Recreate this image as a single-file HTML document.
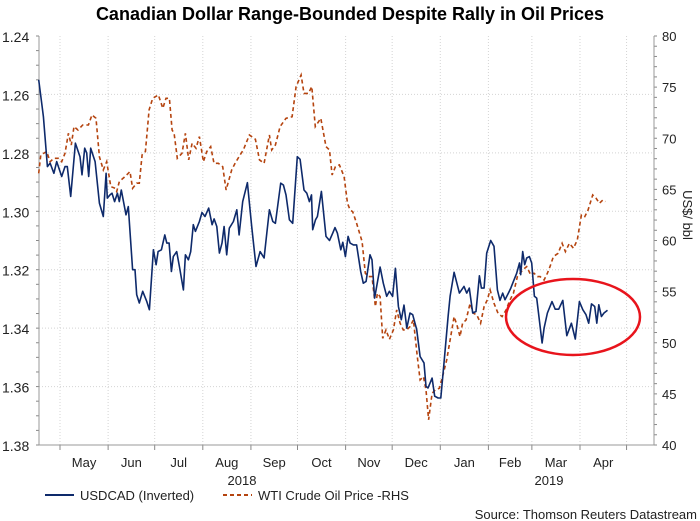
<!DOCTYPE html>
<html><head><meta charset="utf-8"><style>
html,body{margin:0;padding:0;background:#fff;}
svg{display:block;font-family:"Liberation Sans",Arial,sans-serif;}
</style></head><body>
<svg id="chart" width="700" height="521" viewBox="0 0 700 521">
<text x="350" y="20" text-anchor="middle" font-size="18" font-weight="bold" fill="#000">Canadian Dollar Range-Bounded Despite Rally in Oil Prices</text>
<g id="grid"></g>
<g id="axes"></g>
<g id="series"></g>
<ellipse cx="573" cy="317" rx="67" ry="38" fill="none" stroke="#e8141c" stroke-width="2.5"/>
<text transform="translate(683,215) rotate(90)" text-anchor="middle" font-size="13" fill="#222">US$/ bbl</text>
<text x="242" y="485" text-anchor="middle" font-size="13" fill="#222">2018</text>
<text x="549" y="485" text-anchor="middle" font-size="13" fill="#222">2019</text>
<g>
<g><line x1="45" y1="495" x2="74" y2="495" stroke="#0e2a6b" stroke-width="2"/><text x="80" y="500" font-size="13" fill="#222">USDCAD (Inverted)</text></g>
<g><line x1="223" y1="495" x2="252" y2="495" stroke="#b5440f" stroke-width="2" stroke-dasharray="4,3"/><text x="258" y="500" font-size="13" fill="#222">WTI Crude Oil Price -RHS</text></g>
</g>
<text x="697" y="519" text-anchor="end" font-size="13" fill="#222">Source: Thomson Reuters Datastream</text>
</svg>
<script>
// days since 2018-04-01
const usdDays=[16.3,18.2,19.3,21.9,23.6,26.1,27.9,31.1,33.2,34.7,36.9,39.9,42.9,44.2,45.9,47.2,48.5,49.8,52.6,55.4,57.9,59.7,60.5,62.2,63.5,65.2,67.0,68.2,69.5,72.5,74.0,76.8,78.3,79.4,81.1,83.3,85.9,87.6,90.2,91.9,93.2,95.3,97.5,98.8,100.3,101.8,103.0,105.2,106.9,109.5,110.8,112.7,114.2,115.9,117.2,119.8,121.5,123.4,125.8,128.0,129.3,131.0,132.7,134.4,135.7,137.4,139.1,141.7,143.9,145.4,147.7,150.7,153.5,156.3,158.9,161.5,163.2,164.9,167.1,168.8,172.2,173.9,175.6,177.8,179.9,182.9,184.7,187.2,189.0,190.7,192.0,192.8,194.6,195.8,198.4,201.4,203.6,205.7,207.2,208.7,210.9,212.2,213.9,215.6,216.9,219.0,221.1,223.7,225.4,227.2,229.7,231.0,232.7,236.2,238.3,240.5,242.2,244.3,246.1,248.0,249.9,251.6,253.4,255.5,257.2,259.8,262.0,264.5,265.8,267.1,269.7,271.4,273.6,275.3,277.4,280.0,281.3,283.9,287.3,290.3,292.0,293.7,295.9,298.0,300.2,301.5,303.2,304.9,307.5,309.6,311.8,313.5,315.2,316.7,318.9,320.4,322.1,324.2,326.0,326.8,328.1,329.4,330.7,332.4,333.9,335.6,337.1,338.4,340.6,341.9,344.0,347.0,349.0,351.3,353.9,356.5,359.5,362.0,364.6,366.8,368.9,370.6,372.4,374.5,375.8,377.1,378.8,380.5,382.7];
const usdValues=[1.2550,1.2630,1.2676,1.2847,1.2835,1.2870,1.2830,1.2881,1.2847,1.2847,1.2949,1.2767,1.2813,1.2875,1.2784,1.2801,1.2881,1.2784,1.2830,1.2972,1.3018,1.2870,1.2955,1.2944,1.2938,1.2967,1.2938,1.2967,1.2927,1.3012,1.2984,1.3200,1.3200,1.3286,1.3314,1.3274,1.3309,1.3337,1.3132,1.3183,1.3138,1.3132,1.3081,1.3109,1.3109,1.3206,1.3155,1.3138,1.3189,1.3269,1.3149,1.3166,1.3138,1.3046,1.3069,1.3035,1.3004,1.3018,1.2989,1.3046,1.3026,1.3052,1.3143,1.3109,1.3052,1.3149,1.3058,1.3035,1.2995,1.3081,1.2967,1.2902,1.3052,1.3189,1.3138,1.3160,1.3075,1.2995,1.3035,1.3041,1.2904,1.2910,1.2944,1.3029,1.3041,1.2813,1.2822,1.2927,1.2938,1.2967,1.2944,1.3063,1.3029,1.3018,1.2932,1.3086,1.3100,1.3075,1.3056,1.3075,1.3132,1.3106,1.3155,1.3086,1.3109,1.3115,1.3115,1.3206,1.3246,1.3240,1.3149,1.3166,1.3297,1.3191,1.3246,1.3291,1.3274,1.3291,1.3195,1.3326,1.3371,1.3321,1.3400,1.3348,1.3354,1.3405,1.3497,1.3519,1.3599,1.3605,1.3571,1.3633,1.3639,1.3639,1.3519,1.3360,1.3291,1.3209,1.3280,1.3257,1.3280,1.3263,1.3348,1.3343,1.3221,1.3263,1.3263,1.3143,1.3100,1.3120,1.3269,1.3305,1.3280,1.3303,1.3280,1.3263,1.3240,1.3212,1.3177,1.3217,1.3138,1.3183,1.3160,1.3155,1.3177,1.3291,1.3297,1.3354,1.3451,1.3400,1.3348,1.3309,1.3335,1.3335,1.3305,1.3426,1.3383,1.3437,1.3309,1.3337,1.3354,1.3383,1.3317,1.3326,1.3383,1.3320,1.3360,1.3348,1.3339];
const oilDays=[16.3,17.6,21.4,23.6,26.1,28.9,31.1,33.2,35.4,37.3,39.0,41.6,44.6,48.3,50.6,53.2,55.4,57.9,60.1,62.7,65.5,66.5,68.2,71.9,75.1,76.8,79.4,81.1,82.9,85.0,87.4,89.7,93.4,96.2,98.3,100.5,102.2,103.5,105.6,108.6,110.8,112.9,115.1,117.6,119.8,122.4,124.5,127.1,129.2,132.0,134.8,137.0,140.6,142.8,146.0,148.1,152.0,155.9,158.5,161.5,164.9,166.4,168.8,171.8,175.6,179.5,182.1,185.3,187.2,190.0,192.2,194.5,198.0,201.4,203.6,205.3,207.4,210.0,213.0,215.2,216.9,218.6,221.1,224.6,226.7,228.9,231.0,233.2,234.5,236.2,237.9,240.0,242.2,244.8,246.9,249.1,251.2,253.4,255.5,257.7,260.2,262.0,264.1,265.8,267.5,269.7,271.8,274.4,277.0,279.1,281.7,283.9,286.0,287.7,289.4,291.6,294.2,296.3,298.5,301.0,303.2,305.3,307.1,309.6,312.2,314.8,317.4,319.9,322.1,324.7,328.1,330.7,333.3,335.4,337.6,339.3,341.9,344.0,345.7,347.9,350.9,353.5,355.6,358.2,360.8,363.3,365.9,368.1,370.2,373.2,375.4,377.5,379.7,381.4];
const oilValues=[66.57,68.37,68.69,67.71,68.04,68.04,67.71,68.53,70.48,69.34,71.14,70.81,71.30,71.30,72.28,71.95,68.20,66.90,67.71,65.27,65.11,64.78,65.76,66.25,66.74,65.11,65.60,65.60,68.37,68.69,72.77,73.91,74.23,72.93,73.91,73.91,70.81,70.48,68.04,68.53,70.48,67.88,69.51,69.02,70.16,67.71,68.69,69.18,67.55,67.55,67.22,64.94,66.90,67.55,68.37,68.85,70.32,69.90,67.88,67.55,70.32,68.85,69.34,71.14,71.95,72.11,75.05,76.19,74.39,74.39,75.05,71.14,71.95,69.18,68.85,66.41,67.22,67.39,66.25,63.64,62.99,62.82,61.68,59.89,56.80,56.47,56.47,53.54,54.84,54.51,50.44,51.26,50.34,51.26,53.21,51.91,51.26,51.26,51.58,52.23,48.65,46.37,46.69,45.39,42.46,45.06,45.39,45.55,47.02,48.32,50.60,52.56,51.58,50.60,51.91,52.23,53.86,52.89,52.72,51.91,53.54,54.19,55.17,53.86,52.89,52.56,53.21,54.19,54.84,56.47,57.12,57.45,56.63,56.80,56.47,56.47,56.14,56.80,57.45,58.43,58.75,59.73,58.91,59.73,59.24,60.05,62.50,62.34,62.99,64.45,64.13,63.64,63.96,63.80];
const leftTicks=[1.24,1.26,1.28,1.30,1.32,1.34,1.36,1.38];
const rightTicks=[40,45,50,55,60,65,70,75,80];
const monthStarts=[30,61,91,122,153,183,214,244,275,306,334,365,395];
const monthLabels=["May","Jun","Jul","Aug","Sep","Oct","Nov","Dec","Jan","Feb","Mar","Apr"];

const L=39,R=654,T=36,B=445;
const xDay=d=>60+(d-30)*1.5522;
const yUsd=v=>T+(v-1.24)/0.14*(B-T);
const yOil=v=>T+(80-v)/40*(B-T);
const NS="http://www.w3.org/2000/svg";
function mk(tag,attrs,parent){const e=document.createElementNS(NS,tag);for(const k in attrs)e.setAttribute(k,attrs[k]);parent.appendChild(e);return e;}
const grid=document.getElementById('grid'),axes=document.getElementById('axes'),series=document.getElementById('series');

leftTicks.forEach((v,i)=>{
  const y=yUsd(v);
  if(i>0&&i<leftTicks.length-1){const g=mk('line',{x1:L,x2:R,y1:y,y2:y,stroke:'#d4d4d4','stroke-dasharray':'1,2'},grid);
  
  }
  const t=mk('text',{x:2,y:y+6,'font-size':14,fill:'#222'},axes);t.textContent=v.toFixed(2);
  
  
});
for(let v=1.24;v<=1.3801;v+=0.005){const y=yUsd(v);mk('line',{x1:L-3,x2:L,y1:y,y2:y,stroke:'#888'},axes);}
rightTicks.forEach(v=>{
  const y=yOil(v);
  const t=mk('text',{x:662,y:y+5,'font-size':13,fill:'#222'},axes);t.textContent=v;
  
  
});
for(let v=40;v<=80;v+=1){const y=yOil(v);mk('line',{x1:R,x2:R+3,y1:y,y2:y,stroke:'#888'},axes);}
monthStarts.forEach((d,i)=>{
  const x=xDay(d);
  const g=mk('line',{x1:x,x2:x,y1:T,y2:B,stroke:'#d4d4d4','stroke-dasharray':'1,2'},grid);
  
  
  mk('line',{x1:x,x2:x,y1:B,y2:B+5,stroke:'#888'},axes);
  if(i<monthLabels.length){
    const t=mk('text',{x:(x+xDay(monthStarts[i+1]))/2,y:467,'text-anchor':'middle','font-size':13,fill:'#222'},axes);
    t.textContent=monthLabels[i];
    
    
  }
});
mk('line',{x1:L,x2:L,y1:T,y2:B,stroke:'#999'},axes);
mk('line',{x1:R,x2:R,y1:T,y2:B,stroke:'#999'},axes);
mk('line',{x1:L,x2:R,y1:B,y2:B,stroke:'#999'},axes);

const oilPath=mk('polyline',{points:oilDays.map((d,i)=>xDay(d).toFixed(1)+','+yOil(oilValues[i]).toFixed(1)).join(' '),fill:'none',stroke:'#b5440f','stroke-width':1.6,'stroke-dasharray':'4,3'},series);


const usdPath=mk('polyline',{points:usdDays.map((d,i)=>xDay(d).toFixed(1)+','+yUsd(usdValues[i]).toFixed(1)).join(' '),fill:'none',stroke:'#0e2a6b','stroke-width':1.6,'stroke-linejoin':'round'},series);


</script>
</body></html>
